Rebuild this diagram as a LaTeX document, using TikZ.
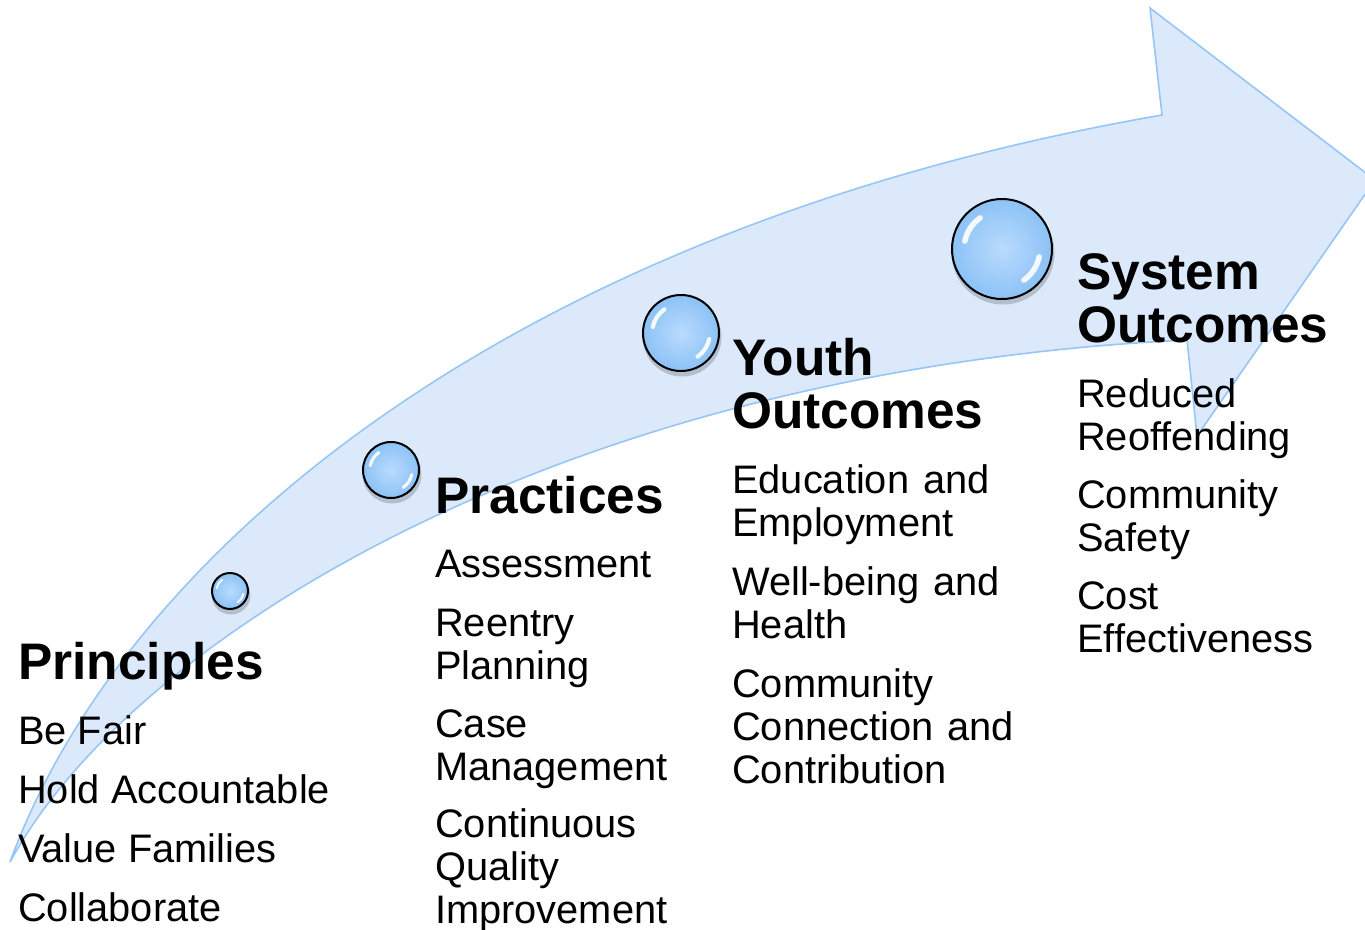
\documentclass[tikz,border=0pt]{standalone}
\usepackage{fontspec}
\setmainfont{Liberation Sans}
\definecolor{arrowfill}{RGB}{219,233,251}
\definecolor{arrowline}{RGB}{150,198,245}
\definecolor{bubin}{RGB}{185,219,253}
\definecolor{bubout}{RGB}{140,194,246}
\newcommand\ml[1]{\begin{tabular}[t]{@{}l@{}}#1\end{tabular}}
\tikzset{
  arrowshape/.style={fill=arrowfill, draw=arrowline, line width=1.6pt, line join=miter},
  bubble/.style={circle, draw=black, line width=2pt, inner sep=0pt, shade, inner color=bubin, outer color=bubout},
  hilite/.style={white, line cap=round, opacity=0.9},
  head/.style={font=\bfseries\fontsize{51.4}{53}\selectfont, anchor=base west, inner sep=0pt},
  item/.style={font=\fontsize{39.8}{43}\selectfont, anchor=base west, inner sep=0pt}
}
\newcommand\bubblenode[4]{%
  \fill[black, opacity=0.18] (#2+1,#3+4) circle[radius=#4pt+1.5pt];
  \node[bubble, minimum size=2*#4pt] (#1) at (#2,#3) {};
  \draw[hilite, line width=0.11*#4pt] (#1.center) ++(168:0.76*#4pt) arc[start angle=168, end angle=125, radius=0.76*#4pt];
  \draw[hilite, line width=0.11*#4pt] (#1.center) ++(-12:0.76*#4pt) arc[start angle=-12, end angle=-55, radius=0.76*#4pt];
}
\begin{document}
\begin{tikzpicture}[x=1pt, y=-1pt]
\useasboundingbox (0,0) rectangle (1365,929);
\clip (0,0) rectangle (1365,929);
% curved arrow
\coordinate (tail) at (10,862);
\coordinate (uppernotch) at (1162,115);
\coordinate (headtop) at (1150,8);
\coordinate (headtip) at (1375,180);
\coordinate (headlow) at (1197,436);
\coordinate (lownotch) at (1187,340);
\draw[arrowshape]
  (tail) .. controls (120,560) and (500,230) .. (uppernotch)
  -- (headtop) -- (headtip) -- (headlow) -- (lownotch)
  .. controls (560,370) and (130,640) .. (tail)
  -- cycle;
% bubbles
\bubblenode{b1}{230}{591}{18}
\bubblenode{b2}{391}{470}{28}
\bubblenode{b3}{681}{333}{38}
\bubblenode{b4}{1002}{249}{50}
% Principles
\node[head] (h1) at (18,679) {Principles};
\node[item] (p1) at (18,744) {Be Fair};
\node[item] (p2) at (18,803) {Hold Accountable};
\node[item] (p3) at (18,862) {Value Families};
\node[item] (p4) at (18,921) {Collaborate};
% Practices
\node[head] (h2) at (435,513) {Practices};
\node[item] (q1) at (435,577) {Assessment};
\node[item] (q2) at (435,636) {\ml{Reentry\\Planning}};
\node[item] (q3) at (435,737) {\ml{Case\\Management}};
\node[item] (q4) at (435,837) {\ml{Continuous\\Quality\\Improvement}};
% Youth Outcomes
\node[head] (h3) at (732,375) {\ml{Youth\\Outcomes}};
\node[item] (y1) at (732,493) {\ml{Education\hspace{3pt} and\\Employment}};
\node[item] (y2) at (732,595) {\ml{Well-being\hspace{3pt} and\\Health}};
\node[item] (y3) at (732,697) {\ml{Community\\Connection\hspace{3pt} and\\Contribution}};
% System Outcomes
\node[head] (h4) at (1077,289) {\ml{System\\Outcomes}};
\node[item] (s1) at (1077,407) {\ml{Reduced\\Reoffending}};
\node[item] (s2) at (1077,508) {\ml{Community\\Safety}};
\node[item] (s3) at (1077,609) {\ml{Cost\\Effectiveness}};
\end{tikzpicture}
\end{document}
